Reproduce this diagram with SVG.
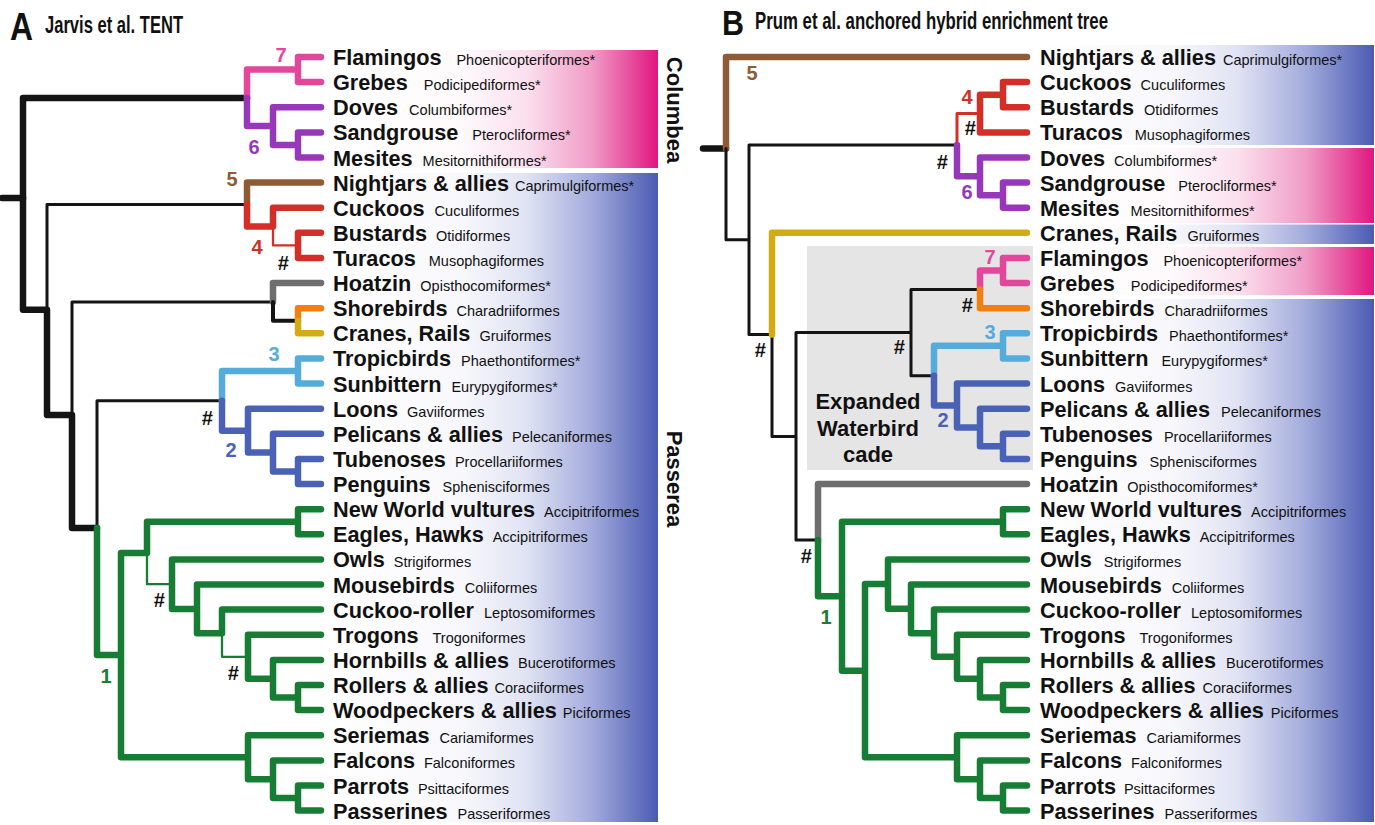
<svg xmlns="http://www.w3.org/2000/svg" width="1375" height="825" viewBox="0 0 1375 825">
<defs>
<linearGradient id="gPink" x1="0" y1="0" x2="1" y2="0">
<stop offset="0" stop-color="#ffffff"/><stop offset="0.4" stop-color="#fefafc"/><stop offset="0.6" stop-color="#fbe0ee"/><stop offset="0.8" stop-color="#f09cc6"/><stop offset="1" stop-color="#e0167f"/>
</linearGradient>
<linearGradient id="gBlue" x1="0" y1="0" x2="1" y2="0">
<stop offset="0" stop-color="#ffffff"/><stop offset="0.4" stop-color="#f8f8fc"/><stop offset="0.6" stop-color="#e0e3f3"/><stop offset="0.8" stop-color="#a3abdc"/><stop offset="1" stop-color="#4a5bb3"/>
</linearGradient>
<style>
.br{fill:none;stroke-linecap:round;stroke-linejoin:round;stroke-width:6.5}
.k{stroke:#141414}.th{stroke-width:3}.md{stroke-width:4}.tn{stroke-width:2.3}
.pk{stroke:#e2479b}.pu{stroke:#9638b9}.bw{stroke:#8f5b34}.rd{stroke:#d32e27}.gy{stroke:#6e6e6e}
.or{stroke:#f27f12}.gd{stroke:#d5ab14}.lb{stroke:#55acdb}.db{stroke:#4a62b6}.gn{stroke:#177d34}
text{font-family:"Liberation Sans",Arial,Helvetica,sans-serif}
.n{font-weight:bold;font-size:21.7px;fill:#111}
.s{font-weight:normal;font-size:14.5px}
.num{font-weight:bold;font-size:20px;text-anchor:middle}
.hs{font-weight:bold;font-style:italic;font-size:20px;text-anchor:middle;fill:#111}
.cl{font-weight:bold;font-size:22px;text-anchor:middle;fill:#111}
</style>
</defs>
<rect width="1375" height="825" fill="#ffffff"/>

<g id="backgrounds">
<rect x="328" y="50" width="330" height="118" fill="url(#gPink)"/>
<rect x="328" y="173" width="330" height="649" fill="url(#gBlue)"/>
<rect x="1033" y="45" width="341" height="100" fill="url(#gBlue)"/>
<rect x="1033" y="148" width="341" height="75" fill="url(#gPink)"/>
<rect x="1033" y="224.5" width="341" height="19.5" fill="url(#gBlue)"/>
<rect x="1033" y="247" width="341" height="48" fill="url(#gPink)"/>
<rect x="1033" y="299" width="341" height="523" fill="url(#gBlue)"/>
<rect x="807" y="246" width="226" height="224" fill="#e6e5e6"/>
</g>

<g id="titles">
<text x="10" y="40" font-size="39" font-weight="bold" textLength="23" lengthAdjust="spacingAndGlyphs" fill="#111">A</text>
<text x="45" y="33" font-size="23" font-weight="bold" textLength="138" lengthAdjust="spacingAndGlyphs" fill="#111">Jarvis et al. TENT</text>
<text x="722" y="35" font-size="35" font-weight="bold" textLength="22" lengthAdjust="spacingAndGlyphs" fill="#111">B</text>
<text x="755" y="29" font-size="24" font-weight="bold" textLength="353" lengthAdjust="spacingAndGlyphs" fill="#111">Prum et al. anchored hybrid enrichment tree</text>
</g>

<g id="connectors">
<!-- LEFT TREE -->
<path class="br k" d="M247 98 H23 V309.8 H47 V415 H72 V528 H97"/>
<path class="br k" d="M2 198 H23"/>
<path class="br k th" d="M247 204.6 H47 V309.8 M273 302 H72 V415 M222 400.8 H97 V528"/>
<path class="br pk" d="M321 57 H298 V82.1 H321 M298 69.6 H247 V98"/>
<path class="br pu" d="M247 98 V126.1 H273 M321 107.2 H273 V145 H298 M321 132.4 H298 V157.5 H321"/>
<path class="br bw" d="M321 182.6 H247 V204.6"/>
<path class="br rd" d="M247 204.6 V226.6 H273 M321 207.7 H273 V226.6 M321 232.8 H298 V258 H321"/>
<path class="br rd tn" d="M273 226.6 V245.4 H298"/>
<path class="br gy" d="M321 283.1 H273 V302"/>
<path class="br k md" d="M273 302 V320.8 H298"/>
<path class="br or" d="M321 308.2 H298 V320.8"/>
<path class="br gd" d="M298 320.8 V333.3 H321"/>
<path class="br lb" d="M321 358.4 H298 V383.6 H321 M298 371 H222 V400.8"/>
<path class="br db" d="M222 400.8 V430.7 H248 M321 408.7 H248 V452.6 H273 M321 433.8 H273 V471.5 H298 M321 458.9 H298 V484 H321"/>
<path class="br gn" d="M97 528 V655.1 H121 M321 509.2 H298 V534.3 H321 M298 521.8 H147 V553 H121 V757.2 H248 M321 735.2 H248 V779.2 H273 M321 760.4 H273 V798 H298 M321 785.5 H298 V810.6 H321 M321 559.4 H172 V608.9 H197 M321 584.5 H197 V633.2 H222 M321 609.6 H222 V633.2 M321 634.8 H248 V678.7 H273 M321 659.9 H273 V697.6 H298 M321 685 H298 V710.1 H321"/>
<path class="br gn tn" d="M147 553 V584.2 H172 M222 633.2 V656.8 H248"/>

<!-- RIGHT TREE -->
<path class="br k" d="M703 148.4 H726"/>
<path class="br bw" d="M1027 57 H726 V148.4"/>
<path class="br k th" d="M726 148.4 V239.75 H749 M957 144.9 H749 V334.6 H772 M772 334.6 V436.4 H796 M911 332.6 H796 V540.1 H818 M980 289.4 H911 V375.7 H934"/>
<path class="br rd" d="M1027 82.1 H1003 V107.2 H1027 M1003 94.65 H980 V132.4 H1027"/>
<path class="br rd th" d="M980 113.5 H957 V144.9"/>
<path class="br pu" d="M1027 182.6 H1003 V207.7 H1027 M1027 157.5 H980 V195.2 H1003 M980 176.3 H957 V144.9"/>
<path class="br gd" d="M1027 232.8 H772 V334.6"/>
<path class="br pk" d="M1027 258 H1003 V283.1 H1027 M1003 270.55 H980 V289.4"/>
<path class="br or" d="M980 289.4 V308.2 H1027"/>
<path class="br lb" d="M1027 333.3 H1003 V358.4 H1027 M1003 345.85 H934 V375.7"/>
<path class="br db" d="M934 375.7 V405.6 H957 M1027 383.6 H957 V427.5 H980 M1027 408.7 H980 V446.35 H1003 M1027 433.8 H1003 V458.9 H1027"/>
<path class="br gy" d="M1027 484 H818 V540.1"/>
<path class="br gn" d="M818 540.1 V596.2 H842 M1027 509.2 H1003 V534.3 H1027 M1003 521.75 H842 V670.7 H865 M888 584.1 H865 V757.2 H957 M1027 559.4 H888 V608.85 H911 M1027 584.5 H911 V633.2 H934 M1027 609.6 H934 V656.8 H957 M1027 634.8 H957 V678.7 H980 M1027 659.9 H980 V697.55 H1003 M1027 685 H1003 V710.1 H1027 M1027 735.2 H957 V779.2 H980 M1027 760.4 H980 V798.05 H1003 M1027 785.5 H1003 V810.6 H1027"/>
</g>

<g id="clade-numbers">
<text class="num" x="281" y="62" fill="#e2479b">7</text>
<text class="num" x="254" y="154" fill="#9638b9">6</text>
<text class="num" x="232" y="186" fill="#8f5b34">5</text>
<text class="num" x="257" y="254" fill="#d32e27">4</text>
<text class="num" x="274" y="361" fill="#55acdb">3</text>
<text class="num" x="231" y="457" fill="#4a62b6">2</text>
<text class="num" x="106" y="683" fill="#177d34">1</text>
<text class="hs" x="283" y="270">#</text>
<text class="hs" x="207" y="425">#</text>
<text class="hs" x="159" y="607">#</text>
<text class="hs" x="233" y="680">#</text>
<text class="num" x="752" y="80" fill="#8f5b34">5</text>
<text class="num" x="967" y="104" fill="#d32e27">4</text>
<text class="num" x="967" y="199" fill="#9638b9">6</text>
<text class="num" x="990" y="264" fill="#e2479b">7</text>
<text class="num" x="990" y="339" fill="#55acdb">3</text>
<text class="num" x="943" y="427" fill="#4a62b6">2</text>
<text class="num" x="826" y="624" fill="#177d34">1</text>
<text class="hs" x="970" y="135">#</text>
<text class="hs" x="942" y="169">#</text>
<text class="hs" x="967" y="312">#</text>
<text class="hs" x="899" y="354">#</text>
<text class="hs" x="760" y="357">#</text>
<text class="hs" x="806" y="563">#</text>
</g>

<g id="group-labels">
<text class="cl" transform="translate(667,110) rotate(90)">Columbea</text>
<text class="cl" transform="translate(667,479) rotate(90)">Passerea</text>
<text class="cl" x="868" y="409">Expanded</text>
<text class="cl" x="868" y="435.5">Waterbird</text>
<text class="cl" x="868" y="462">cade</text>
</g>

<g id="left-taxa">
<g id="L-flamingos"><text class="n" x="333" y="65">Flamingos<tspan class="s" dx="15">Phoenicopteriformes*</tspan></text></g>
<g id="L-grebes"><text class="n" x="333" y="90.1">Grebes<tspan class="s" dx="16">Podicipediformes*</tspan></text></g>
<g id="L-doves"><text class="n" x="333" y="115.2">Doves<tspan class="s" dx="11">Columbiformes*</tspan></text></g>
<g id="L-sandgrouse"><text class="n" x="333" y="140.4">Sandgrouse<tspan class="s" dx="14">Pterocliformes*</tspan></text></g>
<g id="L-mesites"><text class="n" x="333" y="165.5">Mesites<tspan class="s" dx="10">Mesitornithiformes*</tspan></text></g>
<g id="L-nightjars"><text class="n" x="333" y="190.6">Nightjars &amp; allies<tspan class="s" dx="6">Caprimulgiformes*</tspan></text></g>
<g id="L-cuckoos"><text class="n" x="333" y="215.7">Cuckoos<tspan class="s" dx="10">Cuculiformes</tspan></text></g>
<g id="L-bustards"><text class="n" x="333" y="240.8">Bustards<tspan class="s" dx="9">Otidiformes</tspan></text></g>
<g id="L-turacos"><text class="n" x="333" y="266">Turacos<tspan class="s" dx="13">Musophagiformes</tspan></text></g>
<g id="L-hoatzin"><text class="n" x="333" y="291.1">Hoatzin<tspan class="s" dx="9">Opisthocomiformes*</tspan></text></g>
<g id="L-shorebirds"><text class="n" x="333" y="316.2">Shorebirds<tspan class="s" dx="9">Charadriiformes</tspan></text></g>
<g id="L-cranes"><text class="n" x="333" y="341.3">Cranes, Rails<tspan class="s" dx="9">Gruiformes</tspan></text></g>
<g id="L-tropicbirds"><text class="n" x="333" y="366.4">Tropicbirds<tspan class="s" dx="10">Phaethontiformes*</tspan></text></g>
<g id="L-sunbittern"><text class="n" x="333" y="391.6">Sunbittern<tspan class="s" dx="10">Eurypygiformes*</tspan></text></g>
<g id="L-loons"><text class="n" x="333" y="416.7">Loons<tspan class="s" dx="9">Gaviiformes</tspan></text></g>
<g id="L-pelicans"><text class="n" x="333" y="441.8">Pelicans &amp; allies<tspan class="s" dx="9">Pelecaniformes</tspan></text></g>
<g id="L-tubenoses"><text class="n" x="333" y="466.9">Tubenoses<tspan class="s" dx="9">Procellariiformes</tspan></text></g>
<g id="L-penguins"><text class="n" x="333" y="492">Penguins<tspan class="s" dx="12">Sphenisciformes</tspan></text></g>
<g id="L-nwvultures"><text class="n" x="333" y="517.2">New World vultures<tspan class="s" dx="9">Accipitriformes</tspan></text></g>
<g id="L-eagles"><text class="n" x="333" y="542.3">Eagles, Hawks<tspan class="s" dx="9">Accipitriformes</tspan></text></g>
<g id="L-owls"><text class="n" x="333" y="567.4">Owls<tspan class="s" dx="9">Strigiformes</tspan></text></g>
<g id="L-mousebirds"><text class="n" x="333" y="592.5">Mousebirds<tspan class="s" dx="10">Coliiformes</tspan></text></g>
<g id="L-cuckooroller"><text class="n" x="333" y="617.6">Cuckoo-roller<tspan class="s" dx="10">Leptosomiformes</tspan></text></g>
<g id="L-trogons"><text class="n" x="333" y="642.8">Trogons<tspan class="s" dx="14">Trogoniformes</tspan></text></g>
<g id="L-hornbills"><text class="n" x="333" y="667.9">Hornbills &amp; allies<tspan class="s" dx="9">Bucerotiformes</tspan></text></g>
<g id="L-rollers"><text class="n" x="333" y="693">Rollers &amp; allies<tspan class="s" dx="6">Coraciiformes</tspan></text></g>
<g id="L-woodpeckers"><text class="n" x="333" y="718.1">Woodpeckers &amp; allies<tspan class="s" dx="6">Piciformes</tspan></text></g>
<g id="L-seriemas"><text class="n" x="333" y="743.2">Seriemas<tspan class="s" dx="10">Cariamiformes</tspan></text></g>
<g id="L-falcons"><text class="n" x="333" y="768.4">Falcons<tspan class="s" dx="9">Falconiformes</tspan></text></g>
<g id="L-parrots"><text class="n" x="333" y="793.5">Parrots<tspan class="s" dx="9">Psittaciformes</tspan></text></g>
<g id="L-passerines"><text class="n" x="333" y="818.6">Passerines<tspan class="s" dx="10">Passeriformes</tspan></text></g>
</g>

<g id="right-taxa">
<g id="R-nightjars"><text class="n" x="1040" y="65">Nightjars &amp; allies<tspan class="s" dx="7">Caprimulgiformes*</tspan></text></g>
<g id="R-cuckoos"><text class="n" x="1040" y="90.1">Cuckoos<tspan class="s" dx="9">Cuculiformes</tspan></text></g>
<g id="R-bustards"><text class="n" x="1040" y="115.2">Bustards<tspan class="s" dx="10">Otidiformes</tspan></text></g>
<g id="R-turacos"><text class="n" x="1040" y="140.4">Turacos<tspan class="s" dx="12">Musophagiformes</tspan></text></g>
<g id="R-doves"><text class="n" x="1040" y="165.5">Doves<tspan class="s" dx="9">Columbiformes*</tspan></text></g>
<g id="R-sandgrouse"><text class="n" x="1040" y="190.6">Sandgrouse<tspan class="s" dx="13">Pterocliformes*</tspan></text></g>
<g id="R-mesites"><text class="n" x="1040" y="215.7">Mesites<tspan class="s" dx="11">Mesitornithiformes*</tspan></text></g>
<g id="R-cranes"><text class="n" x="1040" y="240.8">Cranes, Rails<tspan class="s" dx="10">Gruiformes</tspan></text></g>
<g id="R-flamingos"><text class="n" x="1040" y="266">Flamingos<tspan class="s" dx="15">Phoenicopteriformes*</tspan></text></g>
<g id="R-grebes"><text class="n" x="1040" y="291.1">Grebes<tspan class="s" dx="16">Podicipediformes*</tspan></text></g>
<g id="R-shorebirds"><text class="n" x="1040" y="316.2">Shorebirds<tspan class="s" dx="10">Charadriiformes</tspan></text></g>
<g id="R-tropicbirds"><text class="n" x="1040" y="341.3">Tropicbirds<tspan class="s" dx="11">Phaethontiformes*</tspan></text></g>
<g id="R-sunbittern"><text class="n" x="1040" y="366.4">Sunbittern<tspan class="s" dx="13">Eurypygiformes*</tspan></text></g>
<g id="R-loons"><text class="n" x="1040" y="391.6">Loons<tspan class="s" dx="10">Gaviiformes</tspan></text></g>
<g id="R-pelicans"><text class="n" x="1040" y="416.7">Pelicans &amp; allies<tspan class="s" dx="11">Pelecaniformes</tspan></text></g>
<g id="R-tubenoses"><text class="n" x="1040" y="441.8">Tubenoses<tspan class="s" dx="11">Procellariiformes</tspan></text></g>
<g id="R-penguins"><text class="n" x="1040" y="466.9">Penguins<tspan class="s" dx="12">Sphenisciformes</tspan></text></g>
<g id="R-hoatzin"><text class="n" x="1040" y="492">Hoatzin<tspan class="s" dx="9">Opisthocomiformes*</tspan></text></g>
<g id="R-nwvultures"><text class="n" x="1040" y="517.2">New World vultures<tspan class="s" dx="9">Accipitriformes</tspan></text></g>
<g id="R-eagles"><text class="n" x="1040" y="542.3">Eagles, Hawks<tspan class="s" dx="9">Accipitriformes</tspan></text></g>
<g id="R-owls"><text class="n" x="1040" y="567.4">Owls<tspan class="s" dx="12">Strigiformes</tspan></text></g>
<g id="R-mousebirds"><text class="n" x="1040" y="592.5">Mousebirds<tspan class="s" dx="10">Coliiformes</tspan></text></g>
<g id="R-cuckooroller"><text class="n" x="1040" y="617.6">Cuckoo-roller<tspan class="s" dx="10">Leptosomiformes</tspan></text></g>
<g id="R-trogons"><text class="n" x="1040" y="642.8">Trogons<tspan class="s" dx="14">Trogoniformes</tspan></text></g>
<g id="R-hornbills"><text class="n" x="1040" y="667.9">Hornbills &amp; allies<tspan class="s" dx="10">Bucerotiformes</tspan></text></g>
<g id="R-rollers"><text class="n" x="1040" y="693">Rollers &amp; allies<tspan class="s" dx="7">Coraciiformes</tspan></text></g>
<g id="R-woodpeckers"><text class="n" x="1040" y="718.1">Woodpeckers &amp; allies<tspan class="s" dx="7">Piciformes</tspan></text></g>
<g id="R-seriemas"><text class="n" x="1040" y="743.2">Seriemas<tspan class="s" dx="10">Cariamiformes</tspan></text></g>
<g id="R-falcons"><text class="n" x="1040" y="768.4">Falcons<tspan class="s" dx="9">Falconiformes</tspan></text></g>
<g id="R-parrots"><text class="n" x="1040" y="793.5">Parrots<tspan class="s" dx="8">Psittaciformes</tspan></text></g>
<g id="R-passerines"><text class="n" x="1040" y="818.6">Passerines<tspan class="s" dx="10">Passeriformes</tspan></text></g>
</g>
</svg>
